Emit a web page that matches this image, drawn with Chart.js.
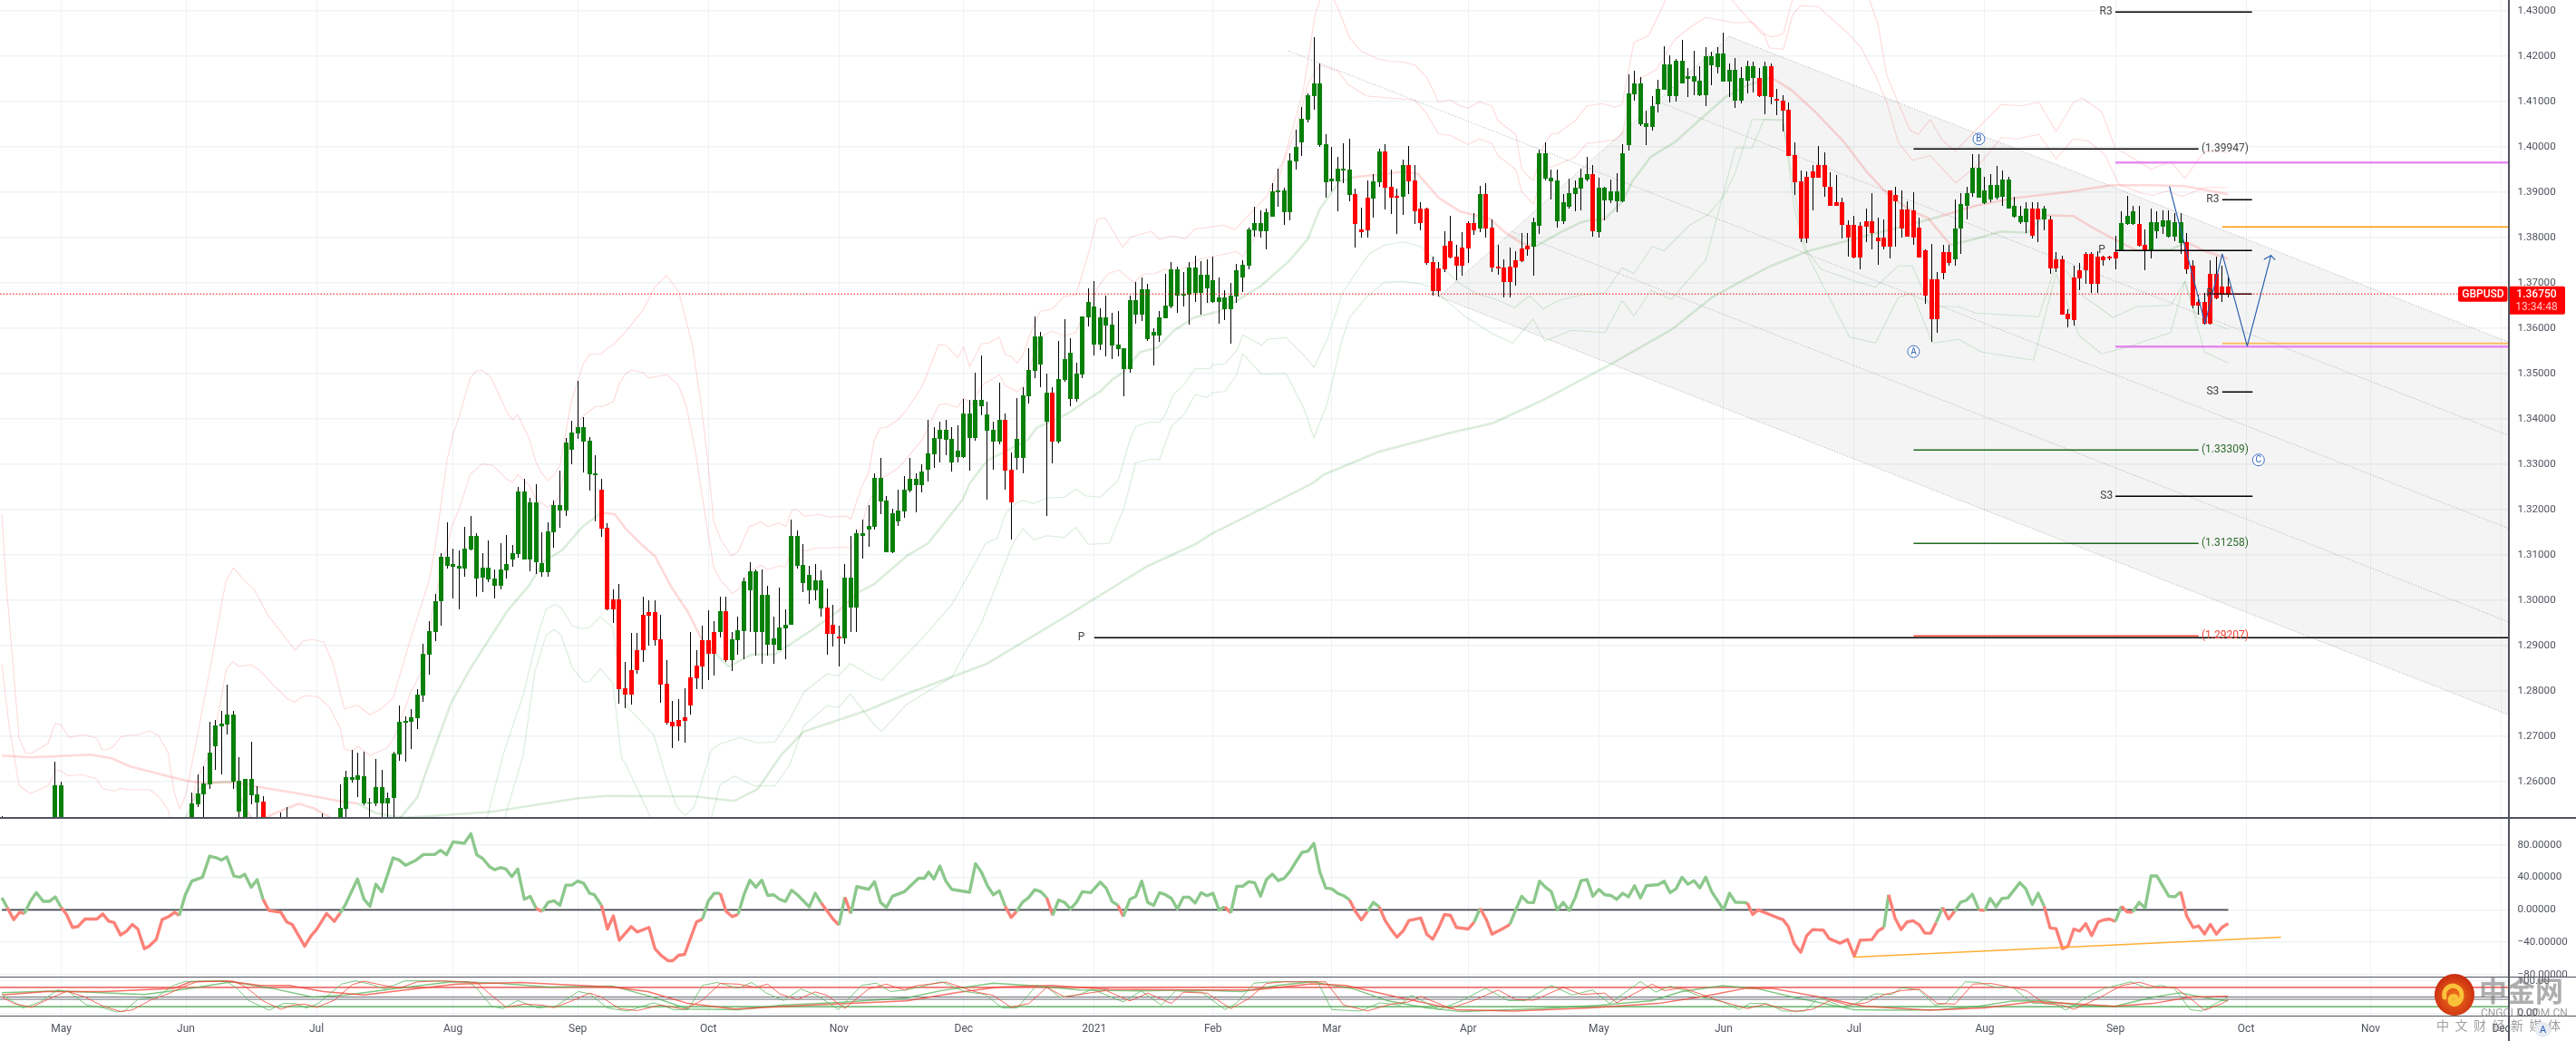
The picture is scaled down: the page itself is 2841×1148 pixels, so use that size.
<!DOCTYPE html>
<html><head><meta charset="utf-8"><title>GBPUSD</title>
<script src="https://cdn.jsdelivr.net/npm/chart.js@4/dist/chart.umd.js"></script>
<style>
html,body{margin:0;padding:0;background:#fff;overflow:hidden}
#wrap{position:relative;width:2841px;height:1148px;overflow:hidden;font-family:Roboto,sans-serif}
canvas{position:absolute;left:0;background:transparent}
.rule{position:absolute;background:#50535e}
.wm{position:absolute;white-space:nowrap}
</style></head><body>
<div id="wrap">
<canvas id="mainPane" width="2841" height="902" style="top:0;width:2841px;height:902px"></canvas>
<canvas id="cciPane" width="2841" height="185" style="top:902px;width:2841px;height:185px"></canvas>
<canvas id="stochPane" width="2841" height="71" style="top:1077px;width:2841px;height:71px"></canvas>
<div class="rule" style="left:0;top:901px;width:2841px;height:1.6px"></div>
<div class="rule" style="left:0;top:1076.5px;width:2841px;height:1.6px"></div>
<div class="rule" style="left:0;top:1119.5px;width:2841px;height:1.6px"></div>
<div class="rule" style="left:2766px;top:0;width:1.5px;height:1148px"></div>
<svg class="wm" style="left:2683px;top:1073px" width="48" height="48" viewBox="0 0 48 48">
<defs><radialGradient id="lg" cx="50%" cy="55%" r="55%"><stop offset="0%" stop-color="#f2761c"/><stop offset="100%" stop-color="#c92a10"/></radialGradient></defs>
<ellipse cx="24" cy="24" rx="22" ry="23" fill="url(#lg)"/>
<path d="M13 27c-2-9 6-15 13-12 7 3 8 13 2 18-4 3-9 1-9-3 0-4 5-6 7-3 1 2 0 4-2 4" fill="none" stroke="#f9c23a" stroke-width="5" stroke-linecap="round"/>
</svg>
<div class="wm" style="left:2734px;top:1071px;font:700 31px 'Noto Sans CJK SC';color:rgba(120,120,120,.6);line-height:40px">中金网</div>
<div class="wm" style="left:2736px;top:1110px;font:12px Roboto;color:rgba(120,120,120,.7);line-height:14px">CNGOLD.COM.CN</div>
<div class="wm" style="left:2687px;top:1122px;font:14px 'Noto Sans CJK SC';letter-spacing:6.5px;color:rgba(120,120,120,.7);line-height:17px">中文财经新媒体</div>
<div class="wm" style="left:2796px;top:1127px;width:17px;height:17px;border-radius:50%;background:#e8ecf2;color:#2a5ab0;font:11px Roboto;line-height:17px;text-align:center">A</div>
</div>
<script>
// ---------- time axis ----------
const monthBars   = [10,31,53,76,97,119,141,162,184,204,224,247,269,290,312,334,356,378,399,421];
const monthLabels = ['May','Jun','Jul','Aug','Sep','Oct','Nov','Dec','2021','Feb','Mar','Apr','May','Jun','Jul','Aug','Sep','Oct','Nov','Dec'];
const priceTicks  = [1.26,1.27,1.28,1.29,1.30,1.31,1.32,1.33,1.34,1.35,1.36,1.37,1.38,1.39,1.40,1.41,1.42,1.43];
const cciTicks    = [-80,-40,0,40,80];
const stochTicks  = [0,100];

// ---------- candles (one entry per bar) ----------
const wickHigh=[
1.2523,1.2510,1.2505,1.2500,1.2505,1.2510,1.2510,1.2515,1.2515,1.2644,
1.2600,1.2510,1.2505,1.2505,1.2500,1.2500,1.2505,1.2510,1.2510,1.2505,
1.2505,1.2500,1.2500,1.2505,1.2510,1.2510,1.2505,1.2505,1.2510,1.2510,
1.2515,1.2515,1.2576,1.2616,1.2634,1.2732,1.2736,1.2756,1.2814,1.2756,
1.2654,1.2606,1.2688,1.2590,1.2568,1.2515,1.2515,1.2532,1.2544,1.2510,
1.2505,1.2505,1.2510,1.2510,1.2530,1.2510,1.2515,1.2594,1.2624,1.2670,
1.2664,1.2666,1.2564,1.2650,1.2626,1.2576,1.2666,1.2768,1.2744,1.2760,
1.2804,1.2904,1.2954,1.3014,1.3103,1.3171,1.3113,1.3109,1.3161,1.3185,
1.3147,1.3103,1.3131,1.3067,1.3125,1.3143,1.3121,1.3249,1.3267,1.3225,
1.3255,1.3149,1.3171,1.3219,1.3285,1.3357,1.3395,1.3483,1.3403,1.3359,
1.3319,1.3267,1.3170,1.3023,1.3035,1.2863,1.2927,1.2927,1.3008,1.3000,
1.3000,1.2967,1.2867,1.2777,1.2782,1.2805,1.2930,1.2890,1.2943,1.2978,
1.2953,1.3007,1.3007,1.2930,1.2963,1.3050,1.3083,1.3067,1.3067,1.3032,
1.2963,1.3027,1.2980,1.3177,1.3153,1.3123,1.3075,1.3079,1.3065,1.3025,
1.2990,1.2943,1.3079,1.3141,1.3155,1.3177,1.3209,1.3279,1.3313,1.3229,
1.3201,1.3243,1.3273,1.3313,1.3279,1.3299,1.3397,1.3381,1.3393,1.3397,
1.3381,1.3385,1.3443,1.3441,1.3501,1.3539,1.3437,1.3393,1.3479,1.3411,
1.3325,1.3445,1.3469,1.3555,1.3625,1.3591,1.3499,1.3469,1.3571,1.3619,
1.3577,1.3523,1.3625,1.3687,1.3703,1.3643,1.3671,1.3633,1.3637,1.3555,
1.3671,1.3701,1.3711,1.3697,1.3599,1.3637,1.3719,1.3745,1.3735,1.3723,
1.3745,1.3759,1.3747,1.3751,1.3757,1.3711,1.3683,1.3699,1.3741,1.3749,
1.3821,1.3867,1.3860,1.3863,1.3919,1.3951,1.3909,1.3985,1.4037,1.4087,
1.4117,1.4241,1.4183,1.4027,1.3999,1.3977,1.4007,1.4017,1.3907,1.3865,
1.3925,1.3939,1.3995,1.4005,1.3949,1.3907,1.3971,1.4001,1.3959,1.3877,
1.3865,1.3757,1.3745,1.3813,1.3847,1.3783,1.3811,1.3835,1.3853,1.3913,
1.3919,1.3839,1.3783,1.3751,1.3777,1.3769,1.3809,1.3809,1.3843,1.3993,
1.4009,1.3949,1.3949,1.3895,1.3929,1.3925,1.3951,1.3977,1.3959,1.3931,
1.3911,1.3927,1.3941,1.4005,1.4159,1.4167,1.4153,1.4079,1.4111,1.4147,
1.4221,1.4201,1.4193,1.4235,1.4173,1.4211,1.4177,1.4219,1.4209,1.4219,
1.4251,1.4183,1.4195,1.4175,1.4190,1.4187,1.4173,1.4187,1.4183,1.4127,
1.4113,1.4097,1.4009,1.3947,1.3945,1.3960,1.4001,1.3987,1.3943,1.3937,
1.3887,1.3837,1.3847,1.3833,1.3863,1.3897,1.3843,1.3840,1.3903,1.3911,
1.3903,1.3880,1.3900,1.3843,1.3773,1.3785,1.3723,1.3783,1.3783,1.3883,
1.3897,1.3911,1.3983,1.3983,1.3933,1.3940,1.3957,1.3947,1.3933,1.3890,
1.3870,1.3877,1.3877,1.3877,1.3870,1.3847,1.3767,1.3760,1.3642,1.3737,
1.3743,1.3767,1.3767,1.3770,1.3760,1.3760,1.3803,1.3857,1.3891,1.3870,
1.3870,1.3817,1.3863,1.3857,1.3860,1.3860,1.3853,1.3853,1.3810,1.3750,
1.3673,1.3677,1.3750,1.3757,1.3737,1.3713];
const bodyTop=[
1.2500,1.2490,1.2485,1.2480,1.2490,1.2495,1.2490,1.2500,1.2500,1.2592,
1.2592,1.2490,1.2485,1.2485,1.2480,1.2480,1.2485,1.2490,1.2490,1.2485,
1.2485,1.2480,1.2480,1.2485,1.2490,1.2490,1.2485,1.2485,1.2490,1.2490,
1.2495,1.2495,1.2552,1.2574,1.2596,1.2664,1.2724,1.2728,1.2748,1.2748,
1.2602,1.2606,1.2606,1.2572,1.2556,1.2495,1.2495,1.2500,1.2505,1.2490,
1.2485,1.2485,1.2490,1.2490,1.2500,1.2490,1.2495,1.2542,1.2610,1.2610,
1.2614,1.2612,1.2554,1.2588,1.2588,1.2564,1.2662,1.2732,1.2734,1.2742,
1.2792,1.2882,1.2932,1.2998,1.3095,1.3095,1.3079,1.3075,1.3113,1.3141,
1.3141,1.3071,1.3071,1.3047,1.3067,1.3079,1.3103,1.3239,1.3239,1.3215,
1.3215,1.3081,1.3151,1.3209,1.3209,1.3347,1.3369,1.3381,1.3381,1.3351,
1.3279,1.3243,1.3160,1.3001,1.3001,1.2805,1.2845,1.2889,1.2967,1.2973,
1.2973,1.2913,1.2815,1.2731,1.2735,1.2741,1.2829,1.2855,1.2911,1.2911,
1.2929,1.2975,1.2975,1.2913,1.2933,1.3042,1.3063,1.3063,1.3011,1.3011,
1.2915,1.2940,1.2945,1.3141,1.3141,1.3077,1.3055,1.3043,1.3043,1.2983,
1.2945,1.2920,1.3049,1.3049,1.3147,1.3147,1.3163,1.3269,1.3269,1.3219,
1.3191,1.3197,1.3243,1.3267,1.3267,1.3283,1.3323,1.3357,1.3375,1.3375,
1.3355,1.3329,1.3411,1.3411,1.3441,1.3441,1.3409,1.3375,1.3397,1.3397,
1.3287,1.3355,1.3451,1.3507,1.3581,1.3581,1.3457,1.3457,1.3487,1.3531,
1.3545,1.3499,1.3625,1.3657,1.3647,1.3623,1.3623,1.3607,1.3563,1.3555,
1.3661,1.3661,1.3685,1.3685,1.3591,1.3623,1.3649,1.3729,1.3729,1.3675,
1.3733,1.3733,1.3717,1.3717,1.3705,1.3667,1.3667,1.3671,1.3727,1.3739,
1.3817,1.3831,1.3831,1.3855,1.3901,1.3903,1.3903,1.3969,1.3999,1.4061,
1.4113,1.4139,1.4139,1.4005,1.3929,1.3951,1.3951,1.3949,1.3895,1.3817,
1.3887,1.3923,1.3989,1.3989,1.3911,1.3891,1.3959,1.3959,1.3925,1.3863,
1.3863,1.3745,1.3731,1.3781,1.3791,1.3757,1.3777,1.3831,1.3831,1.3895,
1.3895,1.3821,1.3735,1.3733,1.3735,1.3749,1.3775,1.3781,1.3833,1.3985,
1.3985,1.3931,1.3925,1.3877,1.3897,1.3909,1.3931,1.3939,1.3939,1.3909,
1.3909,1.3901,1.3901,1.3985,1.4117,1.4139,1.4139,1.4051,1.4089,1.4127,
1.4181,1.4181,1.4189,1.4189,1.4155,1.4155,1.4145,1.4199,1.4199,1.4205,
1.4205,1.4169,1.4169,1.4151,1.4177,1.4177,1.4151,1.4177,1.4177,1.4105,
1.4101,1.4081,1.3981,1.3923,1.3933,1.3945,1.3960,1.3960,1.3911,1.3877,
1.3877,1.3828,1.3827,1.3825,1.3835,1.3835,1.3800,1.3799,1.3903,1.3893,
1.3861,1.3861,1.3860,1.3821,1.3771,1.3707,1.3707,1.3767,1.3767,1.3820,
1.3873,1.3897,1.3953,1.3953,1.3903,1.3915,1.3915,1.3927,1.3927,1.3869,
1.3847,1.3863,1.3863,1.3863,1.3863,1.3840,1.3751,1.3751,1.3631,1.3711,
1.3727,1.3763,1.3763,1.3757,1.3757,1.3757,1.3768,1.3831,1.3847,1.3857,
1.3829,1.3783,1.3833,1.3833,1.3838,1.3838,1.3833,1.3834,1.3790,1.3737,
1.3657,1.3657,1.3720,1.3720,1.3691,1.3691];
const bodyBottom=[
1.2470,1.2465,1.2460,1.2455,1.2460,1.2465,1.2470,1.2470,1.2475,1.2470,
1.2480,1.2460,1.2455,1.2455,1.2450,1.2450,1.2455,1.2460,1.2460,1.2455,
1.2455,1.2450,1.2450,1.2455,1.2460,1.2460,1.2455,1.2455,1.2460,1.2460,
1.2465,1.2465,1.2480,1.2550,1.2572,1.2594,1.2678,1.2722,1.2726,1.2600,
1.2534,1.2510,1.2570,1.2554,1.2500,1.2465,1.2465,1.2470,1.2475,1.2460,
1.2455,1.2455,1.2460,1.2460,1.2470,1.2460,1.2465,1.2500,1.2540,1.2604,
1.2604,1.2552,1.2552,1.2552,1.2552,1.2552,1.2564,1.2660,1.2730,1.2732,
1.2740,1.2790,1.2880,1.2930,1.2997,1.3075,1.3073,1.3069,1.3069,1.3111,
1.3047,1.3049,1.3045,1.3031,1.3031,1.3065,1.3089,1.3101,1.3089,1.3089,
1.3083,1.3061,1.3061,1.3149,1.3197,1.3197,1.3331,1.3367,1.3349,1.3277,
1.3275,1.3157,1.2980,1.2979,1.2803,1.2791,1.2791,1.2845,1.2889,1.2965,
1.2912,1.2813,1.2730,1.2722,1.2722,1.2733,1.2768,1.2828,1.2853,1.2882,
1.2882,1.2929,1.2868,1.2868,1.2911,1.2932,1.3022,1.2930,1.2930,1.2902,
1.2902,1.2890,1.2938,1.2945,1.3075,1.3037,1.3021,1.3021,1.2981,1.2925,
1.2925,1.2915,1.2915,1.2983,1.2983,1.3141,1.3155,1.3161,1.3217,1.3105,
1.3105,1.3173,1.3195,1.3241,1.3253,1.3253,1.3287,1.3321,1.3355,1.3353,
1.3303,1.3315,1.3315,1.3357,1.3357,1.3427,1.3373,1.3349,1.3349,1.3285,
1.3215,1.3313,1.3313,1.3449,1.3505,1.3519,1.3393,1.3349,1.3349,1.3485,
1.3443,1.3443,1.3497,1.3623,1.3563,1.3563,1.3605,1.3561,1.3553,1.3509,
1.3509,1.3629,1.3629,1.3575,1.3583,1.3583,1.3621,1.3647,1.3671,1.3671,
1.3673,1.3677,1.3677,1.3687,1.3657,1.3657,1.3641,1.3641,1.3669,1.3711,
1.3737,1.3815,1.3813,1.3813,1.3845,1.3899,1.3855,1.3855,1.3967,1.4009,
1.4059,1.4111,1.4003,1.3921,1.3923,1.3923,1.3947,1.3893,1.3829,1.3811,
1.3815,1.3885,1.3921,1.3909,1.3887,1.3887,1.3889,1.3923,1.3857,1.3831,
1.3743,1.3681,1.3681,1.3729,1.3755,1.3737,1.3737,1.3775,1.3815,1.3819,
1.3819,1.3733,1.3731,1.3701,1.3701,1.3733,1.3747,1.3773,1.3779,1.3825,
1.3929,1.3923,1.3835,1.3835,1.3867,1.3895,1.3907,1.3927,1.3813,1.3811,
1.3881,1.3881,1.3879,1.3879,1.4003,1.4115,1.4049,1.4043,1.4043,1.4093,
1.4125,1.4111,1.4111,1.4139,1.4149,1.4143,1.4113,1.4113,1.4179,1.4175,
1.4143,1.4143,1.4101,1.4101,1.4145,1.4151,1.4111,1.4111,1.4110,1.4101,
1.4080,1.3980,1.3921,1.3797,1.3797,1.3931,1.3931,1.3911,1.3870,1.3870,
1.3828,1.3800,1.3755,1.3755,1.3823,1.3810,1.3792,1.3779,1.3779,1.3880,
1.3820,1.3801,1.3800,1.3755,1.3671,1.3620,1.3620,1.3722,1.3743,1.3752,
1.3820,1.3870,1.3897,1.3887,1.3875,1.3883,1.3887,1.3890,1.3863,1.3845,
1.3833,1.3833,1.3803,1.3840,1.3840,1.3732,1.3732,1.3630,1.3620,1.3617,
1.3710,1.3727,1.3698,1.3698,1.3750,1.3753,1.3753,1.3770,1.3829,1.3830,
1.3782,1.3771,1.3771,1.3813,1.3823,1.3802,1.3802,1.3788,1.3729,1.3650,
1.3650,1.3610,1.3610,1.3665,1.3675,1.3675];
const wickLow=[
1.2460,1.2450,1.2445,1.2440,1.2450,1.2455,1.2450,1.2460,1.2465,1.2455,
1.2460,1.2440,1.2435,1.2435,1.2430,1.2430,1.2435,1.2440,1.2440,1.2435,
1.2435,1.2430,1.2430,1.2435,1.2440,1.2440,1.2435,1.2435,1.2440,1.2440,
1.2450,1.2450,1.2470,1.2543,1.2500,1.2583,1.2626,1.2616,1.2704,1.2584,
1.2515,1.2495,1.2550,1.2500,1.2490,1.2450,1.2450,1.2460,1.2465,1.2450,
1.2440,1.2440,1.2450,1.2450,1.2460,1.2450,1.2455,1.2490,1.2500,1.2598,
1.2566,1.2548,1.2500,1.2546,1.2500,1.2500,1.2500,1.2646,1.2644,1.2672,
1.2716,1.2776,1.2836,1.2910,1.2944,1.3069,1.3003,1.2979,1.3051,1.3109,
1.3007,1.3017,1.3039,1.3003,1.3023,1.3047,1.3073,1.3093,1.3089,1.3063,
1.3057,1.3051,1.3051,1.3115,1.3159,1.3185,1.3299,1.3355,1.3281,1.3241,
1.3173,1.3139,1.2977,1.2950,1.2771,1.2762,1.2770,1.2838,1.2863,1.2900,
1.2900,1.2773,1.2725,1.2673,1.2690,1.2685,1.2747,1.2803,1.2803,1.2823,
1.2833,1.2917,1.2863,1.2843,1.2880,1.2870,1.2930,1.2877,1.2860,1.2877,
1.2860,1.2890,1.2870,1.2945,1.3069,1.3017,1.2991,1.2999,1.2963,1.2880,
1.2897,1.2853,1.2903,1.2930,1.2930,1.3091,1.3117,1.3155,1.3189,1.3105,
1.3103,1.3163,1.3181,1.3237,1.3193,1.3237,1.3261,1.3291,1.3303,1.3319,
1.3283,1.3303,1.3313,1.3285,1.3351,1.3407,1.3221,1.3287,1.3343,1.3243,
1.3133,1.3287,1.3279,1.3433,1.3489,1.3469,1.3186,1.3301,1.3345,1.3481,
1.3427,1.3437,1.3489,1.3603,1.3539,1.3551,1.3537,1.3531,1.3537,1.3449,
1.3501,1.3609,1.3615,1.3571,1.3517,1.3569,1.3621,1.3643,1.3633,1.3647,
1.3607,1.3657,1.3629,1.3655,1.3655,1.3609,1.3617,1.3565,1.3655,1.3679,
1.3729,1.3801,1.3799,1.3773,1.3845,1.3867,1.3827,1.3837,1.3949,1.3979,
1.4053,1.4081,1.3999,1.3887,1.3901,1.3857,1.3919,1.3879,1.3777,1.3799,
1.3799,1.3843,1.3911,1.3861,1.3851,1.3807,1.3849,1.3895,1.3829,1.3815,
1.3739,1.3671,1.3669,1.3723,1.3753,1.3705,1.3715,1.3743,1.3805,1.3811,
1.3799,1.3723,1.3717,1.3667,1.3667,1.3693,1.3745,1.3759,1.3715,1.3807,
1.3925,1.3883,1.3821,1.3829,1.3863,1.3857,1.3859,1.3923,1.3801,1.3799,
1.3837,1.3875,1.3855,1.3877,1.3991,1.4101,1.4045,1.4003,1.4035,1.4075,
1.4125,1.4097,1.4099,1.4139,1.4109,1.4113,1.4111,1.4089,1.4135,1.4161,
1.4143,1.4109,1.4085,1.4095,1.4117,1.4120,1.4110,1.4071,1.4093,1.4070,
1.4033,1.3980,1.3893,1.3790,1.3787,1.3860,1.3931,1.3890,1.3870,1.3870,
1.3797,1.3757,1.3753,1.3730,1.3790,1.3773,1.3740,1.3773,1.3753,1.3780,
1.3800,1.3801,1.3783,1.3755,1.3653,1.3570,1.3590,1.3707,1.3737,1.3737,
1.3763,1.3840,1.3890,1.3887,1.3873,1.3877,1.3883,1.3870,1.3863,1.3843,
1.3830,1.3810,1.3797,1.3790,1.3815,1.3720,1.3723,1.3630,1.3602,1.3605,
1.3683,1.3697,1.3677,1.3677,1.3737,1.3750,1.3730,1.3770,1.3827,1.3827,
1.3780,1.3727,1.3753,1.3797,1.3807,1.3800,1.3791,1.3763,1.3720,1.3643,
1.3630,1.3607,1.3607,1.3663,1.3658,1.3667];
const redBars=[[44,44],[101,120],[122,122],[139,141],[169,170],[177,177],[228,230],[233,235],[237,248],[250,257],[268,268],[296,296],[298,328],[342,343],[345,356],[360,361],[368,375]];

// ---------- envelope lines: [bar, price] ----------
const upperFar=[[0,1.3190],[0.7,1.3044],[2.9,1.2697],[4,1.2662],[5,1.2662],[7.8,1.2684],[9,1.2728],[9.9,1.2725],[11.3,1.2697],[13.7,1.2703],[15.9,1.2696],[17,1.2669],[18,1.2671],[18.9,1.2679],[20.1,1.2699],[23.1,1.2704],[24.9,1.2712],[26.4,1.2701],[28,1.2664],[29,1.2577],[30,1.2539],[31,1.2571],[32.8,1.2691],[35.3,1.2864],[37.1,1.2997],[37.8,1.3044],[39,1.3071],[40.6,1.3047],[42.5,1.3023],[45,1.2963],[47.4,1.2923],[49.4,1.2889],[50.8,1.2910],[52.3,1.2913],[54.2,1.2907],[55.7,1.2863],[57.7,1.2760],[59.9,1.2768],[62,1.2747],[64,1.2761],[65.9,1.2784],[68.9,1.2917],[72,1.3044],[73,1.3117],[75,1.3310],[76.1,1.3370],[77,1.3403],[78.9,1.3490],[79.9,1.3505],[80.9,1.3507],[82.4,1.3490],[85,1.3417],[86,1.3397],[86.9,1.3409],[88.8,1.3357],[90,1.3303],[91.1,1.3277],[92,1.3263],[93.1,1.3277],[94,1.3297],[94.9,1.3363],[95.9,1.3437],[98,1.3523],[99,1.3542],[101,1.3543],[102,1.3556],[103,1.3563],[105,1.3590],[108,1.3640],[110,1.3690],[112,1.3716],[114,1.3680],[116.3,1.3563],[117.8,1.3430],[119,1.3297],[119.9,1.3173],[121.1,1.3133],[122.9,1.3097],[124,1.3107],[125.9,1.3162],[127.9,1.3173],[129,1.3162],[130.9,1.3170],[132,1.3162],[133.1,1.3199],[134,1.3199],[135.1,1.3185],[137.7,1.3189],[139.2,1.3183],[142.3,1.3185],[143,1.3178],[144.8,1.3250],[146,1.3280],[146.9,1.3350],[147.9,1.3380],[148.9,1.3380],[150.9,1.3397],[152.4,1.3419],[155,1.3471],[157.8,1.3563],[159,1.3562],[161,1.3535],[162,1.3558],[163,1.3515],[165,1.3565],[166.2,1.3567],[168,1.3580],[169,1.3541],[170,1.3537],[171,1.3523],[172,1.3540],[173.3,1.3590],[174.9,1.3637],[176.9,1.3642],[179,1.3670],[180.9,1.3673],[183,1.3763],[184.5,1.3840],[185.8,1.3843],[188.8,1.3778],[190.2,1.3801],[193.6,1.3813],[195,1.3795],[197,1.3803],[199.4,1.3797],[200.9,1.3818],[205.8,1.3827],[207.7,1.3817],[213,1.3890],[216,1.3975],[219.2,1.4123],[221.2,1.4290],[222,1.4323],[223.7,1.4340],[225,1.4307],[227,1.4240],[229,1.4210],[231.9,1.4193],[234,1.4188],[236,1.4187],[238,1.4180],[240,1.4153],[242,1.4098],[244,1.4103],[245.6,1.4090],[246.9,1.4085],[248.9,1.4099],[251,1.4090],[252,1.4057],[255,1.4027],[256,1.3950],[257.2,1.3933],[258,1.3925],[259.7,1.4003],[261,1.4029],[262,1.4029],[265,1.4057],[267,1.4090],[269.6,1.4095],[271.8,1.4087],[272.9,1.4093],[274.9,1.4230],[277.4,1.4245],[280,1.4317],[280.5,1.4340],[291.4,1.4340],[291.4,1.4323],[296.3,1.4250],[298.2,1.4242],[300.1,1.4249],[301.3,1.4310],[302,1.4340],[314.1,1.4340],[316,1.4270],[317.5,1.4157],[319.4,1.4097],[321.4,1.4037],[322.8,1.4027],[324.8,1.4060],[326.9,1.4013],[329.1,1.3990],[333.5,1.4050],[336.8,1.4093],[340.2,1.4090],[343.1,1.4098],[346,1.4033],[348.9,1.4097],[350.4,1.4107],[353.7,1.4077],[356,1.3997],[360.5,1.3963],[362,1.3950],[365.3,1.3967],[367.7,1.3930],[371,1.3990],[375,1.3987]];
const upperNear=[[0,1.2859],[1.2,1.2724],[2.9,1.2591],[4.8,1.2573],[7.8,1.2591],[9.1,1.2624],[9.9,1.2624],[11.2,1.2612],[13.4,1.2615],[15.9,1.2606],[17,1.2584],[19,1.2579],[20.1,1.2585],[21,1.2582],[24.9,1.2582],[26.4,1.2567],[28,1.2537],[28.5,1.2511],[29.5,1.2470],[31,1.2480],[32.8,1.2604],[34.8,1.2657],[36.4,1.2744],[37.8,1.2847],[38.9,1.2864],[39.9,1.2854],[42,1.2857],[43.5,1.2844],[45.8,1.2811],[47,1.2797],[48,1.2783],[49.3,1.2775],[50.9,1.2789],[53.2,1.2787],[55.2,1.2764],[57,1.2717],[57.7,1.2671],[59,1.2667],[60,1.2677],[62,1.2657],[64.9,1.2674],[66.1,1.2697],[68.9,1.2797],[71,1.2851],[72,1.2917],[72.5,1.2977],[75.8,1.3163],[77,1.3200],[78.9,1.3277],[80.9,1.3300],[82.7,1.3297],[85,1.3267],[86,1.3260],[86.9,1.3277],[88.8,1.3253],[90,1.3223],[91.9,1.3205],[93.1,1.3213],[94,1.3233],[95.4,1.3330],[96.9,1.3390],[98,1.3407],[100,1.3427],[101.3,1.3427],[103,1.3438],[104,1.3477],[105.1,1.3500],[106.1,1.3507],[107.9,1.3502],[108.9,1.3490],[112,1.3497],[114,1.3473],[115.3,1.3427],[116.8,1.3330],[117.8,1.3243],[119,1.3143],[119.9,1.3073],[121.1,1.3043],[123,1.3015],[124,1.3023],[125.9,1.3063],[127.9,1.3077],[129,1.3067],[130.9,1.3075],[132,1.3073],[132.8,1.3103],[134,1.3110],[135.4,1.3108],[137.2,1.3115],[139.7,1.3115],[142,1.3117],[143,1.3113],[144.8,1.3163],[146,1.3217],[148.4,1.3270],[150.9,1.3290],[152.4,1.3312],[155,1.3353],[157.8,1.3430],[159,1.3433],[161,1.3425],[162,1.3447],[163.4,1.3430],[165,1.3473],[168,1.3497],[169,1.3473],[171,1.3460],[172,1.3470],[173.9,1.3543],[174.9,1.3580],[176.9,1.3593],[179,1.3583],[180.9,1.3590],[183,1.3653],[185,1.3697],[186.4,1.3720],[188.1,1.3728],[190.7,1.3700],[192.2,1.3719],[194.2,1.3720],[196,1.3730],[197.3,1.3720],[202,1.3753],[206,1.3763],[208,1.3769],[209,1.3757],[211,1.3797],[213,1.3833],[216,1.3970],[218,1.4037],[220.1,1.4143],[222,1.4180],[225,1.4167],[226.8,1.4137],[229.8,1.4112],[233.9,1.4107],[237.9,1.4103],[240,1.4073],[242,1.4028],[244,1.4025],[246.9,1.4005],[248.9,1.4017],[251,1.4007],[252,1.3980],[255,1.3950],[256,1.3900],[258,1.3873],[259.7,1.3950],[262,1.3960],[265,1.3977],[267,1.4007],[271.8,1.4015],[272.9,1.4027],[274.9,1.4143],[278.7,1.4170],[281.8,1.4237],[284.8,1.4267],[287,1.4285],[292,1.4273],[294.8,1.4275],[296.8,1.4250],[297.7,1.4218],[300.1,1.4215],[301.6,1.4290],[303,1.4311],[305.9,1.4309],[311.2,1.4247],[313.2,1.4217],[315.6,1.4157],[317.5,1.4097],[319.4,1.4010],[321.8,1.3970],[324.8,1.3980],[329.1,1.3920],[333.5,1.3967],[336.8,1.4020],[339.3,1.4017],[343.1,1.4027],[346,1.3973],[348.9,1.4017],[351.3,1.4013],[354.2,1.3983],[356.6,1.3917],[360.5,1.3897],[362.4,1.3893],[364.8,1.3903],[367.2,1.3890],[371,1.3910],[375,1.3910]];
const lowerNear=[[80,1.2450],[81.8,1.2523],[84.4,1.2657],[87.8,1.2790],[90.3,1.2923],[91.7,1.2980],[93.2,1.2991],[94.2,1.2983],[96.1,1.2943],[97.6,1.2937],[99,1.2940],[100.8,1.2963],[102.9,1.2940],[104.4,1.2797],[105.4,1.2763],[109.8,1.2703],[111.7,1.2617],[113.7,1.2543],[115.1,1.2525],[116.6,1.2543],[119.5,1.2670],[121,1.2683],[124.4,1.2697],[127.3,1.2685],[130.2,1.2687],[132.7,1.2737],[135.1,1.2797],[139,1.2837],[141,1.2833],[142.9,1.2860],[146.8,1.2830],[148.2,1.2823],[152.4,1.2880],[155,1.2915],[158,1.2960],[160,1.2990],[163,1.3060],[165.7,1.3125],[167.7,1.3137],[169,1.3190],[170.8,1.3213],[172,1.3220],[173.8,1.3213],[176,1.3225],[179,1.3227],[180.9,1.3245],[182.5,1.3230],[185,1.3227],[188,1.3263],[190.1,1.3357],[191,1.3383],[193.2,1.3392],[195,1.3392],[196,1.3410],[197.3,1.3453],[199,1.3473],[201,1.3511],[203.4,1.3510],[204,1.3519],[206,1.3521],[208,1.3550],[209,1.3585],[212.2,1.3562],[213.2,1.3575],[216.3,1.3579],[219.3,1.3540],[221,1.3513],[223.3,1.3577],[225.8,1.3677],[229,1.3740],[230.3,1.3763],[232.9,1.3783],[236,1.3790],[239,1.3780],[242,1.3743],[245,1.3703],[248.2,1.3677],[251.7,1.3663],[254.8,1.3645],[257.3,1.3671],[259.6,1.3642],[262,1.3660],[266,1.3673],[270,1.3677],[272.9,1.3733],[274.9,1.3720],[278,1.3780],[280,1.3770],[284.3,1.3827],[287.4,1.3850],[290,1.3890],[292,1.3943],[294.8,1.4060],[300,1.4060],[302,1.3857],[304,1.3770],[306.4,1.3730],[312.2,1.3703],[315.6,1.3690],[319.4,1.3737],[321.8,1.3737],[324.8,1.3647],[329.6,1.3647],[332.5,1.3633],[343.1,1.3625],[346,1.3740],[348,1.3723],[349.9,1.3677],[355.6,1.3623],[359.5,1.3647],[365.3,1.3650],[367.7,1.3703],[369.7,1.3623],[375,1.3597]];
const lowerFar=[[82,1.2400],[84.7,1.2520],[87.8,1.2657],[89.8,1.2843],[91.7,1.2923],[93,1.2935],[94.2,1.2923],[96.1,1.2850],[98.1,1.2819],[99,1.2820],[100.8,1.2849],[102.9,1.2817],[104.4,1.2650],[105,1.2640],[109.3,1.2520],[113,1.2470],[116,1.2460],[119.5,1.2520],[121,1.2593],[123.4,1.2612],[126.8,1.2590],[130.2,1.2590],[132.7,1.2637],[135.1,1.2723],[139,1.2767],[141,1.2763],[142.9,1.2793],[146.8,1.2727],[148.2,1.2710],[152.4,1.2770],[160,1.2830],[165,1.2950],[170.3,1.3125],[172,1.3157],[173.8,1.3133],[176,1.3142],[179,1.3138],[180.9,1.3160],[183,1.3123],[186.5,1.3125],[189,1.3203],[191,1.3303],[193.2,1.3310],[195,1.3310],[197,1.3383],[199,1.3407],[201,1.3453],[203,1.3447],[204,1.3458],[206,1.3460],[208,1.3497],[209,1.3543],[212.2,1.3498],[216.3,1.3500],[219.3,1.3423],[221,1.3357],[223.3,1.3437],[225.8,1.3577],[227,1.3623],[229.8,1.3667],[232.9,1.3701],[236,1.3703],[239,1.3697],[241,1.3690],[242.4,1.3670],[246.3,1.3627],[251.1,1.3587],[254.5,1.3567],[257.9,1.3620],[259.9,1.3571],[264.3,1.3595],[270,1.3590],[272.9,1.3660],[274.9,1.3627],[277.8,1.3683],[281.2,1.3663],[287,1.3750],[292,1.3997],[294.8,1.3997],[296.8,1.4060],[300,1.4057],[303.5,1.3777],[311.2,1.3580],[315.6,1.3567],[319.4,1.3667],[321.8,1.3677],[325.2,1.3567],[329.6,1.3575],[333.5,1.3547],[342.2,1.3529],[346,1.3720],[349.9,1.3583],[353.7,1.3543],[358.5,1.3560],[365.3,1.3590],[367.7,1.3703],[371,1.3547],[375,1.3523]];
const midLine=[[30,1.2490],[33,1.2580],[35,1.2597],[39,1.2599],[41,1.2540],[43,1.2500],[44.5,1.2521],[47,1.2535],[50,1.2551],[52.5,1.2541],[55.2,1.2521],[57,1.2490],[64,1.2490],[67.2,1.2521],[70,1.2565],[71,1.2604],[73,1.2677],[75.6,1.2771],[79,1.2851],[85.2,1.2977],[88.7,1.3030],[91.3,1.3085],[94.4,1.3110],[97.9,1.3163],[101,1.3193],[103.3,1.3189],[105.1,1.3157],[107.7,1.3123],[110,1.3097],[112.7,1.3030],[115.5,1.2975],[118,1.2910],[122.4,1.2853],[126.3,1.2880],[130.2,1.2880],[136,1.2930],[141,1.2977],[144.3,1.3017],[146.8,1.3034],[150.9,1.3080],[152.4,1.3097],[156,1.3125],[161.9,1.3223],[163,1.3257],[165.9,1.3307],[172.8,1.3353],[174.3,1.3380],[176.4,1.3393],[179.4,1.3410],[183,1.3443],[185,1.3460],[187.1,1.3487],[189,1.3503],[191.7,1.3547],[194.7,1.3557],[197.3,1.3593],[200.8,1.3623],[205,1.3637],[208,1.3660],[212,1.3692],[217,1.3750],[220,1.3797],[222,1.3863],[225.3,1.3923],[227.8,1.3933],[230.9,1.3937],[236,1.3945],[238.5,1.3940],[242,1.3887],[245.6,1.3857],[248.7,1.3847],[250.7,1.3840],[253.3,1.3810],[256,1.3787],[258.4,1.3780],[262.4,1.3810],[266,1.3833],[267.5,1.3838],[270,1.3840],[273,1.3880],[274.6,1.3923],[277.7,1.3977],[281.8,1.4010],[285.8,1.4057],[290.4,1.4110],[294,1.4135],[298,1.4153],[301.6,1.4123],[305.4,1.4077],[310.3,1.4010],[314.2,1.3943],[318,1.3890],[321.8,1.3857],[324.4,1.3843],[328.2,1.3783],[332.5,1.3797],[336.8,1.3813],[341.2,1.3810],[344,1.3849],[348.9,1.3847],[352.3,1.3820],[355.6,1.3797],[359.5,1.3771],[365.3,1.3773],[368,1.3789],[371,1.3770],[375,1.3753]];
const longLine=[[0,1.2657],[4.8,1.2653],[15,1.2659],[18.5,1.2651],[21.6,1.2633],[25.2,1.2621],[28.7,1.2609],[31.3,1.2601],[33.8,1.2597],[38.9,1.2599],[42,1.2591],[45,1.2584],[50.6,1.2572],[56.7,1.2557],[60,1.2551],[62.8,1.2531],[65.9,1.2523],[68,1.2520],[82.5,1.2533],[97.1,1.2563],[102,1.2568],[116.6,1.2567],[123.4,1.2557],[127.3,1.2583],[131.2,1.2657],[135.1,1.2710],[145.8,1.2757],[152.4,1.2793],[166,1.2860],[180,1.2970],[193,1.3075],[201.3,1.3125],[203.9,1.3147],[212.5,1.3203],[220.7,1.3257],[222.7,1.3277],[231.9,1.3327],[244.3,1.3370],[251.1,1.3390],[259.9,1.3443],[270.6,1.3517],[281.3,1.3597],[288,1.3667],[293,1.3703],[298,1.3737],[304.3,1.3770],[311,1.3793],[316.8,1.3813],[322.8,1.3833],[326.7,1.3847],[332.5,1.3870],[339.2,1.3887],[347.9,1.3900],[355.3,1.3915],[362,1.3915],[367.7,1.3913],[375,1.3895]];
const midRed=[[40,67],[101,118],[138,142],[227,258],[267,270],[298,328],[344,356],[367,375]];
const longRed=[[0,58],[323,375]];

// ---------- channel: [bar, price] ----------
const channelShape=[[291,1.4243],[422.2,1.3569],[422.2,1.2747],[242.1,1.3669]];
const channelEdges=[[[242.1,1.3669],[291,1.4243]],[[291,1.4243],[422.2,1.3569]],[[242.1,1.3669],[422.2,1.2747]],[[254.3,1.3813],[422.2,1.2952]],[[216.7,1.4211],[422.2,1.3158]],[[278.8,1.4100],[422.2,1.3363]]];

// ---------- horizontal levels: [from bar, to bar, price] ----------
const blackLevels=[[356,379,1.4297],[322,370,1.3995],[374,379,1.3883],[356,379,1.3771],[371.5,379,1.3675],[374,379.1,1.3459],[356,379.1,1.3229],[184,422.2,1.2917]];
const greenLevels=[[322,370,1.3331],[322,370,1.3125]];
const redLevels=[[322,370,1.2921]];
const violetLevels=[[356,422.2,1.3965],[356,422.2,1.3559]];
const orangeLevels=[[374,422.2,1.3823],[374,422.2,1.3566]];
const wavePath=[[365.1,1.3912],[371.1,1.3610],[374,1.3763],[378.2,1.3560],[382.2,1.3760]];
const waveArrow=[[381,1.3751],[382.2,1.3760],[382.9,1.3750]];
const lastPrice=1.3675;
const priceLineEnd=413.8;
const levelCenterText=[['R3',354.4,1.4297],['R3',372.4,1.3883],['P',353.7,1.3771],['P',371.9,1.3675],['S3',372.4,1.3459],['S3',354.5,1.3229],['P',181.8,1.2917]];
const levelNumberText=[['(1.39947)',370.5,1.3995,'#444444'],['(1.33309)',370.5,1.3331,'#2e6b2e'],['(1.31258)',370.5,1.3125,'#2e6b2e'],['(1.29207)',370.5,1.2921,'#f44336']];
const waveMarks=[['A',322,1.3548],['B',333,1.4017],['C',380.1,1.3309]];

// ---------- first oscillator: [bar, value] ----------
const cciLine=[[0,14.8],[0.9,2.9],[2,-12],[3,-3],[3.8,-4.5],[4.8,10.4],[5.8,21.2],[7,10.4],[8,10.4],[9,16],[10,2.9],[10.9,-5.7],[11.9,-21.7],[12.8,-20.6],[14,-11.3],[16,-11.3],[17,-5],[18,-13.9],[18.9,-15.7],[20,-31],[21,-26.2],[22,-18],[22.9,-23.6],[24,-47.8],[24.8,-44.8],[26,-36.6],[27,-12],[28.1,-8.3],[29.1,-3],[29.9,-6.8],[30.9,18.6],[32,35.4],[33.8,40.2],[35,66.3],[36.2,64],[37,61.4],[37.9,65.2],[39.1,41.7],[40.1,40.2],[40.9,43.9],[42,27.9],[43,37.2],[44,13],[45,-0.8],[47,-3],[48,-15],[48.9,-18],[50,-31.8],[51,-44.8],[52.1,-31.8],[53,-24.3],[54.7,-4.5],[56,-14.2],[57,-3.8],[57.8,5.5],[59.9,38],[61,13],[62,4.4],[63,31.6],[64,22.3],[65.9,64],[66.9,61.4],[68,55],[69.8,61.4],[71,68.2],[72.9,68.2],[73.9,73.4],[74.9,67.8],[76,83.8],[77.9,82],[79,93.9],[80,67.8],[81,63.3],[82.2,52.9],[83,49.5],[84,52.1],[84.9,50.3],[85.9,40.9],[86.9,50.3],[88,13],[89,16.7],[90,1.8],[91,-2],[92,9.2],[93,11.1],[94,5.5],[95,30.5],[96,30.5],[97,35.4],[98,32.7],[99,20.4],[99.8,18.6],[101,5.5],[102,-23.6],[103,-7.5],[104,-37.4],[106,-20.6],[107,-27.3],[109,-21.7],[110,-47.8],[111,-56],[112.2,-62.7],[113,-62.7],[114,-56],[115,-54.9],[117,-15],[118,-11.3],[119,11.1],[120,20.4],[121,20.4],[122,-1.9],[123,-8.3],[124,-5.7],[125,18.6],[126,36.5],[127,27.9],[128,36.5],[129,17.8],[130,18.6],[131,13],[132,10.4],[133,24.2],[134,18.6],[136,3.6],[137,20.4],[138,8.5],[140,-11.3],[141,-18.7],[142,15.6],[143,-4.5],[144,28.6],[146,25.3],[147,34.6],[148,9.2],[149,2.9],[150,16.7],[152,22.3],[154.4,39],[155.4,39],[156.1,46.5],[157,38],[158,54],[159,35.4],[160,25.3],[163,21.6],[164,57],[165,46.5],[166,29.8],[167,18.6],[168,23.4],[169,4.4],[170,-9.4],[170.9,-2],[171.9,9.2],[172.9,14.8],[174,24.9],[175,22.3],[176,14.8],[177,-6.8],[178,12.2],[179,9.2],[180,1],[181,9.2],[182,22.3],[183.4,21.2],[184,26],[185,34.2],[186,26.8],[187,10.4],[188,5.5],[188.9,-8.3],[190,13],[191,16.7],[192,35.4],[193,9.2],[194,5.5],[195,21.2],[196,18.6],[197,14.1],[198,1],[199,15.6],[200,15.6],[201,8.5],[202,21.2],[203,17.5],[204,20.4],[205,0],[206,3.6],[207,-3.8],[208,29],[209,29],[210,34.6],[211,33.5],[212,16.7],[213,37.2],[214,44],[215,36],[216,39],[217,47.7],[218,59.6],[219,70.8],[220,72.3],[221,82],[222,46.5],[223,26.8],[224,26],[225,20.4],[226,17.5],[227,12.2],[228,-2],[229,-12.4],[230,-2],[231,9.2],[232,3.6],[233,-13.1],[234,-24.3],[235,-33.6],[236,-26.2],[237,-13.1],[239,-10.1],[240,-29.9],[241,-36.2],[242,-22.4],[243,-5.7],[244,-6.8],[245,-21.7],[247,-23.6],[248,-15],[249,1.8],[250,-11.3],[251,-29.9],[253,-22.4],[254,-18],[255,0],[256,16.7],[257,9.2],[258,8.9],[259,35.4],[260,27.9],[261,22.3],[262,0],[263,9.2],[264,-0.8],[265,14.8],[266,36],[267,37.2],[268,16.7],[269,25.3],[270,18.6],[271,17.8],[272,13],[273,20.4],[274,16],[275,29.7],[276,14.8],[277,29.7],[279,31.2],[280,35.4],[281,21.2],[282,26],[283,40.2],[284,31.6],[285,36],[286,27.1],[287,40.2],[288,22.3],[290,0],[291,20.4],[292,9.2],[293,9.2],[294,8.5],[294.9,-5.7],[295.8,0],[299,-9.4],[300,-12],[300.9,-20.6],[301.9,-41.8],[303,-52.3],[304,-31.8],[305,-24.3],[306.8,-25],[307.8,-35.5],[309.6,-41.1],[310.9,-36.6],[312,-57.1],[313,-37.4],[315,-36.6],[316,-26.2],[317,-21.7],[317.8,18.6],[318.9,-10.5],[319.9,-24.3],[320.9,-15],[321.9,-13.5],[323,-18.7],[323.9,-28.8],[324.9,-28.8],[325.8,-15.7],[326.9,2.9],[327.9,-11.3],[328.9,-2],[329.9,9.2],[330.9,11.9],[331.9,19.3],[333,0],[334,-0.8],[334.9,14.1],[335.9,3.7],[336.9,14.1],[337.9,14.8],[339.9,33.5],[340.9,26],[342,6.6],[343,20.4],[344,4.4],[345,-22.4],[346,-23.2],[347.1,-47.8],[348,-44.8],[349,-23.6],[350,-26.2],[351,-16.9],[352,-31.8],[353.1,-15],[354,-12.4],[355,-11.3],[356,-14.2],[357,4.4],[358,-2.7],[358.9,-2.7],[360,9.2],[361,2.5],[362,41.7],[363,41.7],[365,16.7],[366,16],[367,22.3],[368,-7.5],[369.1,-21.7],[370,-19.8],[371,-29.9],[372,-18],[373,-29.9],[374,-21.3],[375,-16.9]];
const cciRed=[[0.9,3.8],[10,29.9],[44,57],[90,91],[101,118],[121,124],[138,141],[142,143],[169,170.9],[176,177],[188,188.9],[206,207],[227,230],[232,248],[249,254],[294,317],[317.8,325.8],[326.9,328.9],[333,334],[344,356],[357,358.9],[367,375]];
const cciZero=[[0,0],[375,0]];
const cciTrend=[[312,-58.2],[383.9,-33.6]];

// ---------- second oscillator: [bar, value] ----------
const stochFastGreen=[[0,58],[3.6,16],[6.5,35],[9.4,72],[11.4,65],[14.3,25],[17.2,16],[19.2,4],[20.6,6],[23,44],[26,49],[28.9,86],[30.9,98],[37.7,100],[39.6,77],[41.6,39],[45,9],[47.4,30],[49.4,30],[51.3,16],[53.3,30],[57.2,90],[59.6,100],[62,90],[64.5,75],[67.9,100],[71.8,100],[78.6,97],[80,77],[82.5,21],[84.4,14],[86.9,39],[90.3,16],[93.2,21],[97.1,67],[99,60],[102,16],[105.4,6.5],[109.8,32],[113.2,11],[115.6,11],[118,86],[120.5,95],[124,77],[126.3,95],[128.7,63],[131.7,39],[134.6,75],[137.5,53],[140.9,11],[144.8,86],[147.3,93],[149.7,67],[152.4,72],[158.3,97],[162.2,67],[165.6,58],[168.5,16],[171,16],[174.3,86],[176.3,77],[178.2,49],[181.6,58],[183.6,74],[188.9,35],[191.9,69],[195.3,25],[197.7,69],[202.1,65],[206,11],[207.9,30],[210.9,93],[214.8,98],[218.7,97],[221.6,98],[224,11],[228.8,6.5],[232.1,32],[235.5,25],[237.4,56],[242.1,11],[245.9,39],[249.9,77],[253.7,39],[256.6,39],[261,86],[264.5,56],[267.9,72],[270.8,30],[276,98],[278.6,65],[281,84],[284.4,65],[286.4,49],[289.9,35],[292.6,11],[294.4,30],[297.2,30],[300,6.5],[303.7,6.5],[306,49],[310,20],[312.3,30],[315.5,60],[318.3,58],[320.1,79],[322.9,72],[325.6,25],[327.4,30],[330.7,97],[333,95],[335.7,81],[338.6,81],[342.1,30],[345.8,30],[347.6,9],[351.5,53],[354.2,77],[358.6,97],[361.4,77],[363.6,86],[365.9,77],[368.6,11],[370.5,6.5],[375,50]];
const stochFastRed=[[0,50],[2,30],[5,18],[8,45],[11,68],[14,50],[17,22],[20,5],[22,10],[25,40],[28,60],[31,85],[33,98],[39,99],[41,82],[44,38],[47,12],[49,25],[51,28],[53,18],[56,40],[59,88],[61,99],[64,87],[67,78],[70,97],[74,100],[80,95],[82,62],[85,18],[88,28],[91,25],[93,17],[96,38],[99,62],[101,50],[104,14],[107,8],[111,25],[115,12],[118,40],[121,92],[124,90],[127,80],[129,90],[131,60],[134,42],[137,66],[139,55],[142,15],[146,75],[149,90],[152,72],[154,85],[159,96],[164,66],[167,55],[170,18],[173,30],[176,80],[179,50],[183,62],[186,70],[190,38],[193,62],[197,30],[199,65],[203,62],[207,14],[210,45],[213,92],[216,97],[223,97],[226,25],[230,7],[234,28],[237,35],[239,52],[244,15],[248,40],[252,72],[255,42],[258,40],[263,80],[266,58],[270,62],[272,32],[278,90],[280,70],[283,78],[286,60],[289,40],[294,14],[297,28],[302,5],[305,12],[308,40],[311,25],[314,32],[317,57],[320,70],[323,74],[326,30],[329,28],[332,90],[335,92],[338,82],[341,70],[344,30],[347,25],[349,12],[353,45],[357,85],[360,96],[363,80],[366,80],[369,40],[371,9],[374,30],[375,42]];
const stochSlowGreen=[[0,63],[9.4,69],[24,58],[31.8,77],[38.7,97],[45.5,77],[52.3,50],[58.1,56],[65.9,75],[75.7,97],[83.5,93],[92.2,81],[102.9,84],[109.8,49],[115.6,13],[124.4,11],[131.2,25],[141,33],[152.4,47],[158.3,70],[167,93],[174.8,84],[181.6,72],[191.4,69],[201.1,72],[208.9,67],[214.8,86],[220.6,97],[227.4,77],[233.3,39],[240,16],[245.9,4.7],[251.8,9],[259.5,14],[269.3,25],[278,39],[282.9,67],[289.8,85],[295.4,77],[301.8,49],[311.9,11],[319.2,9],[326.5,11],[332.9,21],[338.4,37],[343.9,39],[349.5,25],[355.9,21],[362.3,49],[366.8,63],[371.4,47],[375,37]];
const stochSlowRed=[[0,56],[7.5,67],[17.2,67],[29,77],[31.8,97],[37.7,100],[43.5,86],[48.4,86],[54.2,67],[61,56],[67.9,72],[76.6,90],[87.4,95],[102.9,81],[108.8,67],[115.6,30],[123.4,13],[136,25],[152.4,38],[161.2,65],[168,81],[176.8,86],[186.5,74],[201.1,72],[210.9,72],[220.6,91],[226.4,86],[235.2,49],[245,11],[254.7,6.5],[267.4,16],[279,30],[286.9,53],[293.7,77],[298.1,77],[306.4,49],[313.7,21],[324.7,9],[333.9,16],[342.1,35],[346.7,32],[355.9,21],[362.3,30],[368.6,50],[375,52]];
const stochBands={high:80,midA:50,midB:43,low:20};

// ---------- helpers ----------
const XMIN=-0.31, XMAX=422.2, AXISW=74.5;
const C={upRed:'rgba(255,0,0,.15)',dnGreen:'rgba(0,128,0,.15)',gridH:'#eff3f6',gridV:'#eef2f5',txt:'#50535e'};
const pts=a=>a.map(([x,y])=>({x,y}));
const inRange=(v,rs)=>rs.some(([a,b])=>v>=a&&v<b);
const line=(a,o)=>Object.assign({type:'line',data:pts(a),pointRadius:0,borderWidth:1,fill:false,tension:0,borderJoinStyle:'round'},o);
const seg=(a,o,r,red,green)=>line(a,Object.assign({borderColor:green,segment:{borderColor:c=>inRange(c.p0.parsed.x,r)?red:green}},o));
const barIdx=wickHigh.map((_,i)=>i);
const isRed=i=>redBars.some(([a,b])=>i>=a&&i<=b);
const noPad=s=>{s.paddingTop=0;s.paddingBottom=0;s.paddingLeft=0;s.paddingRight=0;};
const xScale=(showLabels)=>({
  type:'linear',min:XMIN,max:XMAX,offset:false,
  afterBuildTicks:s=>{s.ticks=monthBars.map(v=>({value:v}));},
  afterFit:s=>{s.height=showLabels?28:0;noPad(s);},
  border:{display:false},
  grid:{color:C.gridV,lineWidth:1,drawTicks:false,offset:false},
  ticks:{display:showLabels,autoSkip:false,maxRotation:0,padding:8,color:C.txt,font:{family:'Roboto',size:12},
    callback:(v,i)=>monthLabels[i]}
});
const yScale=(min,max,list,fmt)=>({
  type:'linear',position:'right',min,max,beginAtZero:false,
  afterBuildTicks:s=>{s.ticks=list.map(v=>({value:v}));},
  afterFit:s=>{s.width=AXISW;noPad(s);},
  border:{display:false},
  grid:{color:C.gridH,lineWidth:1.5,drawTicks:false},
  ticks:{padding:10,color:C.txt,font:{family:'Roboto',size:11.6},callback:fmt}
});
const base={responsive:false,animation:false,devicePixelRatio:1,events:[],plugins:{legend:{display:false},tooltip:{enabled:false}}};
const snap={id:'snap',afterDatasetsUpdate(ch){
  ch.data.datasets.forEach((d,k)=>{const m=ch.getDatasetMeta(k);
    if(m.type==='bar')m.data.forEach(el=>{el.x=Math.floor(el.x)+.5;el.y=Math.round(el.y);el.base=Math.round(el.base);if(el.y===el.base)el.base=el.y+1;});});
}};
const overlay={id:'overlay',afterDatasetsDraw(ch){
  const g=ch.ctx,X=ch.scales.x,Y=ch.scales.y;
  g.save();g.textBaseline='middle';
  g.font='12px Roboto';g.fillStyle='#444444';g.textAlign='center';
  levelCenterText.forEach(([t,i,p])=>g.fillText(t,X.getPixelForValue(i),Y.getPixelForValue(p)));
  g.textAlign='left';
  levelNumberText.forEach(([t,i,p,c])=>{g.fillStyle=c;g.fillText(t,X.getPixelForValue(i),Y.getPixelForValue(p));});
  g.textAlign='center';g.font='10px Roboto';
  waveMarks.forEach(([t,i,p])=>{const x=X.getPixelForValue(i),y=Y.getPixelForValue(p);
    g.beginPath();g.arc(x,y,6.5,0,Math.PI*2);g.fillStyle='#fff';g.fill();g.lineWidth=1;g.strokeStyle='#3a6fc0';g.stroke();
    g.fillStyle='#2f62b5';g.fillText(t,x,y+.5);});
  const y=Y.getPixelForValue(lastPrice),R=ch.chartArea.right;
  g.fillStyle='#ff0000';
  g.beginPath();g.roundRect(R-55.5,y-8.5,54.5,17,2);g.fill();
  g.beginPath();g.roundRect(R,y-8.5,62.5,31,2);g.fill();
  g.fillStyle='#fff';g.textAlign='center';g.font='500 12px Roboto';
  g.fillText('GBPUSD',R-28,y+.5);
  g.font='500 12px Roboto';g.fillText(lastPrice.toFixed(5),R+31,y+.5);
  g.fillStyle='#ffc4c4';g.font='12px Roboto';g.fillText('13:34:48',R+31,y+15);
  g.restore();
}};

// ---------- main price pane ----------
const levelSets=(rows,o)=>rows.map(([a,b,p])=>line([[a,p],[b,p]],o));
new Chart(document.getElementById('mainPane'),{
  type:'bar',
  data:{datasets:[
    line(channelShape,{fill:'shape',backgroundColor:'rgba(110,110,120,.08)',borderWidth:0,borderColor:'transparent',order:30}),
    ...channelEdges.map(e=>line(e,{borderColor:'rgba(105,105,105,.55)',borderDash:[1,2],order:25})),
    seg(longLine,{borderWidth:2.6,order:21},longRed,C.upRed,'rgba(0,128,0,.14)'),
    seg(midLine,{borderWidth:2.6,order:21},midRed,C.upRed,'rgba(0,128,0,.14)'),
    line(upperFar,{borderColor:C.upRed,borderWidth:1.1,order:20}),
    line(upperNear,{borderColor:C.upRed,borderWidth:1.1,order:20}),
    line(lowerNear,{borderColor:C.dnGreen,borderWidth:1.1,order:20}),
    line(lowerFar,{borderColor:C.dnGreen,borderWidth:1.1,order:20}),
    {type:'bar',order:11,grouped:false,barThickness:1,minBarLength:1,inflateAmount:0,borderWidth:0,backgroundColor:'#000',
     data:barIdx.map(i=>({x:i,y:[wickLow[i],wickHigh[i]]}))},
    {type:'bar',order:10,grouped:false,barThickness:5,minBarLength:1,inflateAmount:0,borderWidth:0,
     backgroundColor:barIdx.map(i=>isRed(i)?'#ff0000':'#088008'),
     data:barIdx.map(i=>({x:i,y:[bodyBottom[i],bodyTop[i]]}))},
    ...levelSets(blackLevels,{borderColor:'#000',borderWidth:1.4,order:5}),
    ...levelSets(greenLevels,{borderColor:'#1f6a1f',borderWidth:1.4,order:5}),
    ...levelSets(redLevels,{borderColor:'#f44336',borderWidth:1.4,order:5}),
    ...levelSets(violetLevels,{borderColor:'rgba(224,102,240,.75)',borderWidth:2.4,order:5}),
    line([[orangeLevels[0][0],orangeLevels[0][2]],[orangeLevels[0][1],orangeLevels[0][2]]],{borderColor:'#ff9800',borderWidth:1.5,order:5}),
    line([[orangeLevels[1][0],orangeLevels[1][2]],[orangeLevels[1][1],orangeLevels[1][2]]],{borderColor:'rgba(255,152,0,.6)',borderWidth:2,order:5}),
    line(wavePath,{borderColor:'#2a5fae',borderWidth:1.2,order:3}),
    line(waveArrow,{borderColor:'#2a5fae',borderWidth:1.2,order:3}),
    line([[XMIN,lastPrice],[priceLineEnd,lastPrice]],{borderColor:'#ff0000',borderWidth:1,borderDash:[1.5,2],order:1})
  ]},
  options:Object.assign({},base,{layout:{padding:0},
    scales:{x:xScale(false),y:yScale(1.25194,1.43234,priceTicks,v=>v.toFixed(5))}}),
  plugins:[snap,overlay]
});
// ---------- CCI pane ----------
new Chart(document.getElementById('cciPane'),{
  type:'line',
  data:{datasets:[
    line(cciZero,{borderColor:'#44464f',borderWidth:1.6,order:3}),
    seg(cciLine,{borderWidth:3.4,order:2},cciRed,'#fb8178','#8cc88c'),
    line(cciTrend,{borderColor:'rgba(255,165,30,.9)',borderWidth:1.5,order:1})
  ]},
  options:Object.assign({},base,{layout:{padding:{bottom:10}},
    scales:{x:xScale(false),y:yScale(-82.3,113.3,cciTicks,v=>(v<0?'\u2212':'')+Math.abs(v).toFixed(5))}})
});
// ---------- stochastic pane ----------
const hLine=v=>[[XMIN,v],[XMAX,v]];
new Chart(document.getElementById('stochPane'),{
  type:'line',
  data:{datasets:[
    line(hLine(stochBands.high),{borderColor:'#e53935',borderWidth:1.2,order:6}),
    line(hLine(stochBands.midA),{borderColor:'#666a72',borderWidth:1.2,order:6}),
    line(hLine(stochBands.midB),{borderColor:'#666a72',borderWidth:1.2,order:6}),
    line(hLine(stochBands.low),{borderColor:'#43a047',borderWidth:1.2,order:6}),
    line(stochSlowGreen,{borderColor:'rgba(76,175,80,.7)',borderWidth:1.5,order:4}),
    line(stochSlowRed,{borderColor:'rgba(244,67,54,.75)',borderWidth:1.5,order:3}),
    line(stochFastGreen,{borderColor:'#5cb860',borderWidth:.8,order:2}),
    line(stochFastRed,{borderColor:'#f44336',borderWidth:.8,order:1})
  ]},
  options:Object.assign({},base,{layout:{padding:0},
    scales:{x:xScale(true),y:yScale(-7.6,113.2,stochTicks,v=>v.toFixed(2))}})
});
</script>
</body></html>
